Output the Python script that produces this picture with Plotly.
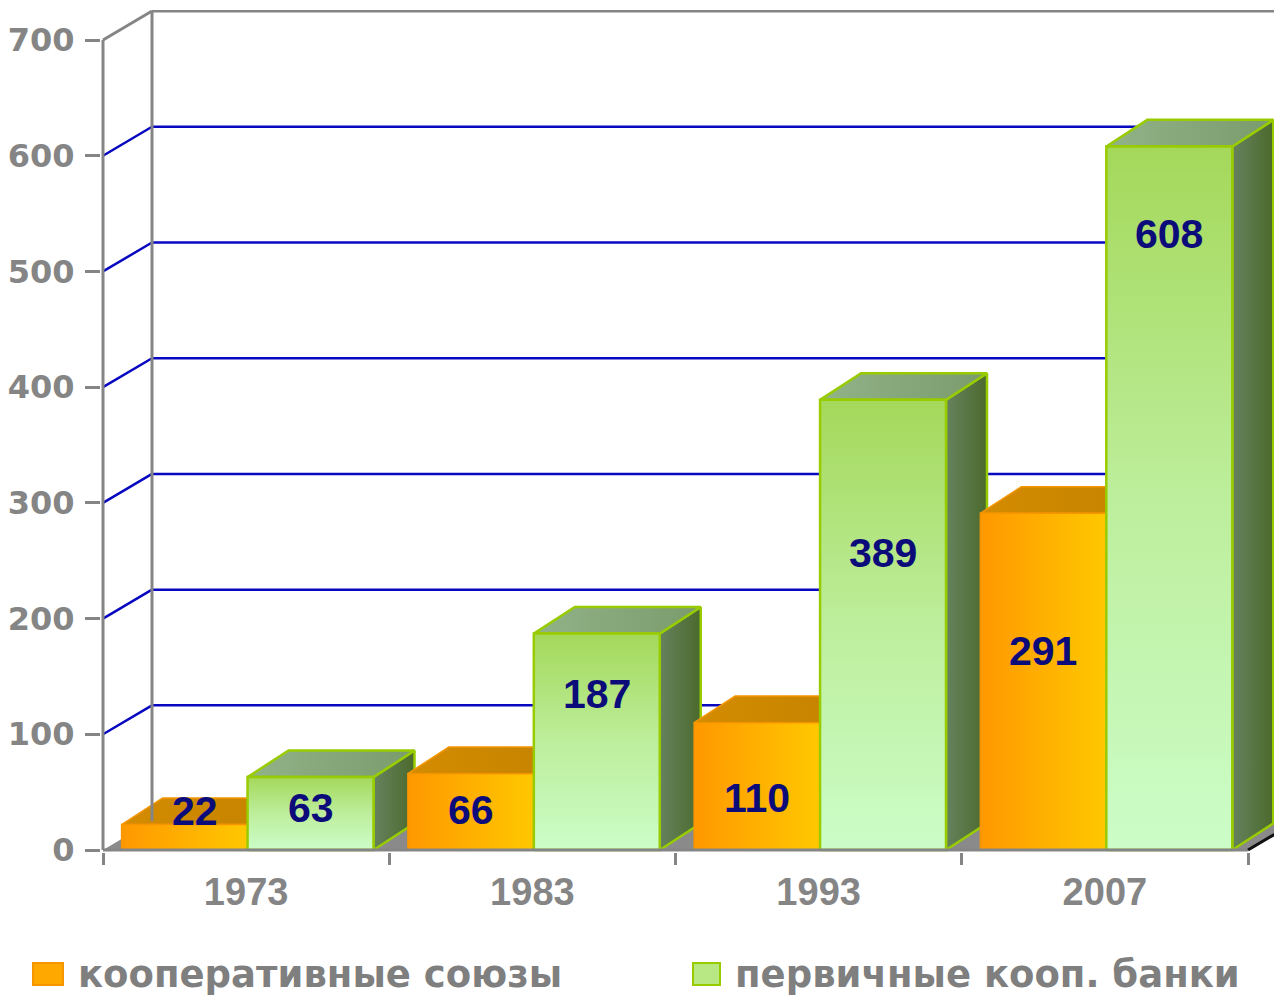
import plotly.graph_objects as go

# ---- data ----
years = ["1973", "1983", "1993", "2007"]
coop_unions = [22, 66, 110, 291]          # кооперативные союзы
primary_banks = [63, 187, 389, 608]       # первичные кооп. банки
y_ticks = [0, 100, 200, 300, 400, 500, 600, 700]
series_names = ["кооперативные союзы", "первичные кооп. банки"]

# label heights as fraction of bar value (None -> on top face)
label_frac_unions = [None, 0.52, 0.41, 0.59]
label_frac_banks = [0.58, 0.72, 0.66, 0.875]

# ---- geometry (layout) ----
PAGE_OFF = 8                      # default body margin of the html page
W, H = 1282 - PAGE_OFF, 995 - PAGE_OFF
PX_X = 286.25          # pixels per category
PX_Y = 810 / 700       # pixels per value unit
L, T, R = 101 - PAGE_OFF, 10 - PAGE_OFF, 0
B = H - (852 - PAGE_OFF)
plot_w = W - L - R
plot_h = H - T - B
x_min = -0.5 - 2 / PX_X
x_max = x_min + plot_w / PX_X
y_min = -2 / PX_Y
y_max = y_min + plot_h / PX_Y

WALL_DX = 49 / PX_X
WALL_DZ = 25
BAR_DX = 41 / PX_X
BAR_DZ = 23
BAR_W = 0.44
OFFS = [-0.435, 0.005]

GREY = "#858585"
GRID = "#0808C0"

fig = go.Figure()

def poly(xs, ys, grad_type, cs, line_color, line_w):
    fig.add_trace(go.Scatter(
        x=xs + [xs[0]], y=ys + [ys[0]], mode="lines", fill="toself",
        fillgradient=dict(type=grad_type, colorscale=cs),
        line=dict(color=line_color, width=line_w),
        hoverinfo="skip", showlegend=False))

# floor
fx = [-0.5, 3.5, 3.5 + WALL_DX, -0.5 + WALL_DX]
fy = [0, 0, WALL_DZ, WALL_DZ]
fig.add_trace(go.Scatter(x=fx + [fx[0]], y=fy + [fy[0]], mode="lines", fill="toself",
                         fillcolor="#8A8A8A", line=dict(width=0), hoverinfo="skip",
                         showlegend=False))

styles = [
    dict(front=("horizontal", [[0, "#FF9800"], [1, "#FFC800"]]),
         top=("horizontal", [[0, "#D48C00"], [1, "#C48200"]]),
         side=("horizontal", [[0, "#C07000"], [1, "#A05E00"]]),
         line="#F59500", lw=1.5),
    dict(front=("vertical", [[0, "#CCFDC8"], [0.5, "#BDEE9C"], [1, "#A4D85A"]]),
         top=("horizontal", [[0, "#92B288"], [1, "#7A9C6C"]]),
         side=("horizontal", [[0, "#65825E"], [1, "#4B6A2C"]]),
         line="#99CC00", lw=2.5),
]

series = [coop_unions, primary_banks]
for i in range(len(years)):
    for s, vals in enumerate(series):
        st = styles[s]
        v = vals[i]
        x0 = i + OFFS[s]
        x1 = x0 + BAR_W
        # side
        poly([x1, x1 + BAR_DX, x1 + BAR_DX, x1], [0, BAR_DZ, v + BAR_DZ, v],
             st["side"][0], st["side"][1], st["line"], st["lw"])
        # top
        poly([x0, x1, x1 + BAR_DX, x0 + BAR_DX], [v, v, v + BAR_DZ, v + BAR_DZ],
             st["top"][0], st["top"][1], st["line"], st["lw"])
        # front
        poly([x0, x1, x1, x0], [0, 0, v, v],
             st["front"][0], st["front"][1], st["line"], st["lw"])

# data labels
annotations = []
fracs = [label_frac_unions, label_frac_banks]
for s, vals in enumerate(series):
    for i, v in enumerate(vals):
        x0 = i + OFFS[s]
        xc = x0 + BAR_W / 2
        f = fracs[s][i]
        if f is None:
            xl, yl = xc + BAR_DX / 4, v + BAR_DZ / 2
        else:
            xl, yl = xc, v * f
        annotations.append(dict(x=xl, y=yl, xref="x", yref="y", text=str(v),
                                showarrow=False,
                                font=dict(family="Liberation Sans", size=41,
                                          color="#0B0B7A", weight="bold")))

# wall / grid shapes
shapes = []
for v in y_ticks[1:-1]:
    shapes.append(dict(type="line", xref="x", yref="y", layer="below",
                       x0=-0.5 + WALL_DX, x1=x_max + 1, y0=v + WALL_DZ, y1=v + WALL_DZ,
                       line=dict(color=GRID, width=2.5)))
    shapes.append(dict(type="line", xref="x", yref="y", layer="below",
                       x0=-0.5, x1=-0.5 + WALL_DX, y0=v, y1=v + WALL_DZ,
                       line=dict(color=GRID, width=2.5)))
top_v = y_ticks[-1]
grey_lines = [
    (-0.5, 0, -0.5, top_v),
    (-0.5, top_v, -0.5 + WALL_DX, top_v + WALL_DZ),
    (-0.5 + WALL_DX, WALL_DZ, -0.5 + WALL_DX, top_v + WALL_DZ),
    (-0.5 + WALL_DX, top_v + WALL_DZ, x_max + 1, top_v + WALL_DZ),
    (-0.5, 0, 3.5, 0),
]
for (a, b, c, d) in grey_lines:
    shapes.append(dict(type="line", xref="x", yref="y", layer="above",
                       x0=a, y0=b, x1=c, y1=d, line=dict(color=GREY, width=3)))
shapes.append(dict(type="line", xref="x", yref="y", layer="above",
                   x0=3.5, y0=0, x1=3.5 + WALL_DX, y1=WALL_DZ,
                   line=dict(color="#111111", width=3)))

# legend (manual); positions given in reference-page pixels
def px_to_paper_x(px):
    return (px - PAGE_OFF - L) / plot_w

def px_to_paper_y(py):
    return (H - B - (py - PAGE_OFF)) / plot_h

leg = [(33, 63, "#FFA800", "#F59500", 76, series_names[0]),
       (693, 720, "#B8E884", "#99CC00", 733, series_names[1])]
for (sx0, sx1, fc, lc, tx, name) in leg:
    shapes.append(dict(type="rect", xref="paper", yref="paper",
                       x0=px_to_paper_x(sx0), x1=px_to_paper_x(sx1),
                       y0=px_to_paper_y(985), y1=px_to_paper_y(963),
                       fillcolor=fc, line=dict(color=lc, width=2)))
    annotations.append(dict(x=px_to_paper_x(tx), y=px_to_paper_y(974),
                            xref="paper", yref="paper", xanchor="left", yanchor="middle",
                            text=name, showarrow=False,
                            font=dict(family="DejaVu Sans", size=37, color="#7F7F7F",
                                      weight="bold")))

fig.update_layout(
    width=W, height=H,
    margin=dict(l=L, r=R, t=T, b=B, pad=0),
    paper_bgcolor="white", plot_bgcolor="white",
    showlegend=False,
    shapes=shapes, annotations=annotations,
    xaxis=dict(range=[x_min, x_max], tickvals=list(range(len(years))),
               ticktext=[f"<b>{y}</b>" for y in years],
               ticks="", showgrid=False, zeroline=False, showline=False,
               tickfont=dict(family="Liberation Sans", size=38, color=GREY),
               ticklabelstandoff=14,
               minor=dict(tickvals=[-0.5, 0.5, 1.5, 2.5, 3.5], ticks="outside",
                          ticklen=12, tickwidth=3, tickcolor=GREY, showgrid=False)),
    yaxis=dict(range=[y_min, y_max], tickvals=y_ticks, ticks="outside", ticklen=15,
               tickwidth=3, tickcolor=GREY, showgrid=False, zeroline=False,
               showline=False, ticklabelstandoff=4,
               tickfont=dict(family="DejaVu Sans", size=32, color=GREY, weight="bold")),
)

fig.write_html("out.html")
